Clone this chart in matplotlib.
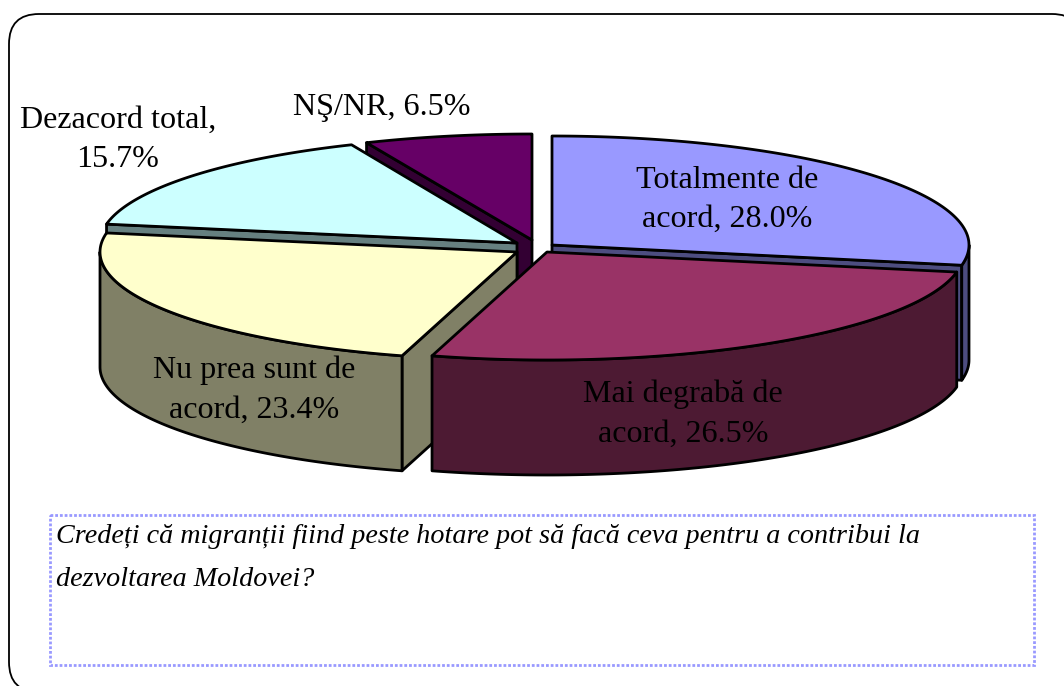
import matplotlib
matplotlib.use('Agg')
import matplotlib.pyplot as plt
from matplotlib.patches import Polygon, FancyBboxPatch, Rectangle
import numpy as np

plt.rcParams['font.family'] = ['Liberation Serif', 'DejaVu Serif']

# data
names = ['Totalmente de\nacord', 'Mai degrabă de\nacord', 'Nu prea sunt de\nacord', 'Dezacord total', 'NŞ/NR']
values = [28.0, 26.5, 23.4, 15.7, 6.5]
question = 'Credeți că migranții fiind peste hotare pot să facă ceva pentru a contribui la\ndezvoltarea Moldovei?'

top_colors = ['#9999FF', '#993366', '#FFFFCC', '#CCFFFF', '#660066']
side_colors = ['#4D4D80', '#4D1A33', '#808066', '#668080', '#330033']

# pie geometry in pixels, apex of each exploded slice
apex = [(552, 245), (547, 252), (517, 252), (517, 243), (532, 240)]
radius_y = [109, 108, 108, 107, 106]
_A = 417
_DEPTH = 115
label_pos = [(727, 200), (683, 414), (254, 390), (118, 140), (382, 107)]
label_break = [False, False, False, True, False]
draw_order = [4, 3, 0, 2, 1]
_LW = 2.0

def rim(cx, cy, b, t0, t1, drop=0):
    t = np.radians(np.linspace(t0, t1, 120))
    return np.column_stack((cx + _A * np.cos(t), cy - b * np.sin(t) + drop))

def wall(p, q, color):
    pts = [p, q, (q[0], q[1] + _DEPTH), (p[0], p[1] + _DEPTH)]
    ax.add_patch(Polygon(pts, closed=True, fc=color, ec='black', lw=_LW, joinstyle='round'))

fig = plt.figure(figsize=(10.64, 6.86), dpi=100)
ax = fig.add_axes([0, 0, 1, 1])
ax.set_xlim(0, 1064)
ax.set_ylim(686, 0)
ax.axis('off')

# rounded frame runs off the right and bottom edge
ax.add_patch(FancyBboxPatch((9, 14), 1073, 678, boxstyle='round,pad=0,rounding_size=30',
                            fc='white', ec='black', lw=1.3))

# slice angles go clockwise from 12 o'clock
total = sum(values)
edges = 90 - 360 * np.cumsum([0] + values) / total

for i in draw_order:
    cx, cy = apex[i]
    start, end = edges[i], edges[i + 1]
    arc = rim(cx, cy, radius_y[i], start, end)

    # radial walls, only those facing the viewer
    if np.cos(np.radians(start)) < -1e-9:
        wall((cx, cy), arc[0], side_colors[i])
    if np.cos(np.radians(end)) > 1e-9:
        wall((cx, cy), arc[-1], side_colors[i])

    # outer rim, only the front half shows
    lo, hi = max(end, -180), min(start, 0)
    if lo < hi:
        front = rim(cx, cy, radius_y[i], hi, lo)
        low = rim(cx, cy, radius_y[i], lo, hi, _DEPTH)
        ax.add_patch(Polygon(np.vstack((front, low)), closed=True, fc=side_colors[i],
                             ec='black', lw=_LW, joinstyle='round'))

    # top face
    ax.add_patch(Polygon(np.vstack(([(cx, cy)], arc)), closed=True, fc=top_colors[i],
                         ec='black', lw=_LW, joinstyle='round'))

for name, val, pos, brk in zip(names, values, label_pos, label_break):
    sep = ',\n' if brk else ', '
    ax.text(pos[0], pos[1], f'{name}{sep}{val:.1f}%', ha='center', va='center',
            fontsize=23.1, color='black', linespacing=1.48)

# question box
ax.add_patch(Rectangle((50, 515), 984, 150, fc='white', ec='#9999FF', lw=2.0,
                       linestyle=(0, (1, 0.7))))
ax.text(56, 558, question, ha='left', va='center', fontsize=20.25, style='italic',
        color='black', linespacing=1.9)

fig.savefig('out.png', dpi=100)
